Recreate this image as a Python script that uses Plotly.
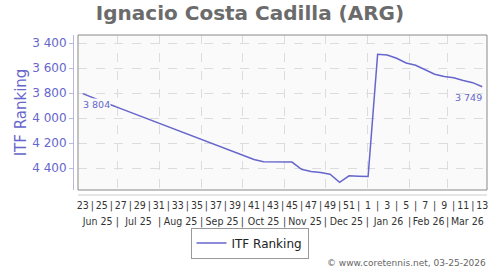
import plotly.graph_objects as go
from datetime import date

# ---------------- data ----------------
weeks = [23, 24, 25, 26, 27, 28, 29, 30, 31, 32, 33, 34, 35, 36, 37, 38, 39, 40,
         41, 42, 43, 44, 45, 46, 47, 48, 49, 50, 51, 52,
         1, 2, 3, 4, 5, 6, 7, 8, 9, 10, 11, 12, 13]
ranking = [3804, 3836, 3866, 3895, 3924, 3953, 3983, 4012, 4041, 4070,
           4100, 4128, 4157, 4186, 4215, 4244, 4273, 4303, 4332, 4349,
           4350, 4350, 4352, 4410, 4428, 4436, 4450, 4515, 4462, 4465,
           4467, 3488, 3494, 3520, 3558, 3576, 3614, 3648, 3667, 3677,
           3699, 3716, 3749]
month_labels = ["Jun 25", "Jul 25", "Aug 25", "Sep 25", "Oct 25", "Nov 25",
                "Dec 25", "Jan 26", "Feb 26", "Mar 26"]
month_starts = ["2025-06-01", "2025-07-01", "2025-08-01", "2025-09-01",
                "2025-10-01", "2025-11-01", "2025-12-01", "2026-01-01",
                "2026-02-01", "2026-03-01"]
first_week_monday = "2025-06-02"
y_ticks = [3400, 3600, 3800, 4000, 4200, 4400]
series_name = "ITF Ranking"
title_text = "Ignacio Costa Cadilla (ARG)"
credit_text = "© www.coretennis.net, 03-25-2026"

# ---------------- derived ----------------
n = len(weeks)
idx = list(range(n))
x0, x1 = -0.5, n - 0.5
base = date.fromisoformat(first_week_monday)
bounds = [(date.fromisoformat(s) - base).days / 7 - 0.5 for s in month_starts]
grid_b = [b for b in bounds if x0 < b < x1]
edges = [max(b, x0) for b in bounds] + [x1]
centers = [(edges[k] + edges[k + 1]) / 2 for k in range(len(month_labels))]

week_text = [str(w) if k % 2 == 0 else "|" for k, w in enumerate(weeks)]
month_vals = centers + grid_b
month_text = month_labels + ["|"] * len(grid_b)

def fmt(v):
    return f"{v:,}".replace(",", " ")

FONT = "DejaVu Sans"
NARROW = "Liberation Sans Narrow, DejaVu Sans Condensed, DejaVu Sans"
LINE = "#6666cc"
GRID = "#dcdcdc"
PLOTBG = "#fafafa"

fig = go.Figure()
fig.add_trace(go.Scatter(
    x=idx, y=ranking, mode="lines", name=series_name,
    line=dict(color=LINE, width=1.5),
))
for ax in ("x2", "x3"):
    fig.add_trace(go.Scatter(x=[None], y=[None], xaxis=ax, yaxis="y",
                             showlegend=False, hoverinfo="skip"))

L, R, T, B = 73, 13, 35, 75
pw = 500 - L - R
ph = 270 - T - B

value_labels = [
    dict(x=idx[0], y=ranking[0], text=fmt(ranking[0]), xref="x", yref="y",
         xanchor="left", yanchor="top", yshift=-4, xshift=-1, showarrow=False,
         bgcolor=PLOTBG, borderpad=0,
         font=dict(family=FONT, size=9.5, color=LINE)),
    dict(x=idx[-1], y=ranking[-1], text=fmt(ranking[-1]), xref="x", yref="y",
         xanchor="right", yanchor="top", yshift=-4, xshift=1, showarrow=False,
         borderpad=0,
         font=dict(family=FONT, size=9.5, color=LINE)),
]

fig.update_layout(
    width=500, height=270,
    margin=dict(l=L, r=R, t=T, b=B, autoexpand=False),
    paper_bgcolor="white", plot_bgcolor=PLOTBG,
    separators=". ",
    font=dict(family=FONT, size=12, color="#333"),
    title=dict(text=title_text, x=0.5, xanchor="center", xref="container",
               y=1 - 13 / 270, yanchor="middle", yref="container",
               font=dict(family=FONT, size=20, color="#6b6b6b", weight="bold")),
    showlegend=True,
    legend=dict(orientation="h", x=(249.5 - L) / pw, xanchor="center",
                y=(195 - 243) / ph, yanchor="middle", bordercolor="#999", borderwidth=1,
                bgcolor="white", font=dict(family=FONT, size=12, color="#222"),
                itemwidth=30, tracegroupgap=0),
    xaxis=dict(domain=[5 / pw, 1], anchor="y", range=[x0, x1],
               tickmode="array", tickvals=idx, ticktext=week_text,
               showgrid=False, zeroline=False, showline=False, ticks="",
               tickangle=0, automargin=False,
               tickfont=dict(family=NARROW, size=10.5, color="#333"),
               ticklabelstandoff=7),
    xaxis2=dict(overlaying="x", anchor="y", range=[x0, x1],
                tickmode="array", tickvals=grid_b, showticklabels=False,
                showgrid=True, gridcolor=GRID, griddash="dash", gridwidth=1,
                zeroline=False, showline=False, ticks="", automargin=False),
    xaxis3=dict(overlaying="x", anchor="y", range=[x0, x1],
                tickmode="array", tickvals=month_vals, ticktext=month_text,
                showgrid=False, zeroline=False, showline=False, ticks="",
                tickangle=0, automargin=False,
                tickfont=dict(family=NARROW, size=10.5, color="#333"),
                ticklabelstandoff=23),
    yaxis=dict(domain=[5 / ph, 1], anchor="free", position=0,
               range=[4576, 3334], tickmode="array", tickvals=y_ticks,
               tickformat=",d", showgrid=True, gridcolor=GRID, griddash="dash",
               zeroline=False, showline=True, linecolor="#b8b8e0", linewidth=1,
               ticks="outside", ticklen=4, tickcolor="#b8b8e0", automargin=False,
               tickfont=dict(family=FONT, size=12, color=LINE),
               title=dict(text=series_name, standoff=0,
                          font=dict(family=FONT, size=15, color=LINE))),
    shapes=[
        dict(type="rect", xref="x domain", yref="y domain", x0=0, x1=1, y0=0, y1=1,
             line=dict(color="#888", width=1), fillcolor="rgba(0,0,0,0)", layer="above"),
        dict(type="line", xref="x domain", yref="paper", x0=0, x1=1, y0=0, y1=0,
             line=dict(color="#cccccc", width=1)),
    ],
    annotations=value_labels + [
        dict(text=credit_text, xref="paper", yref="paper", x=1.002, y=-68 / ph,
             xanchor="right", yanchor="middle", showarrow=False,
             font=dict(family=FONT, size=9, color="#666")),
    ],
)

fig.write_html("out.html")
